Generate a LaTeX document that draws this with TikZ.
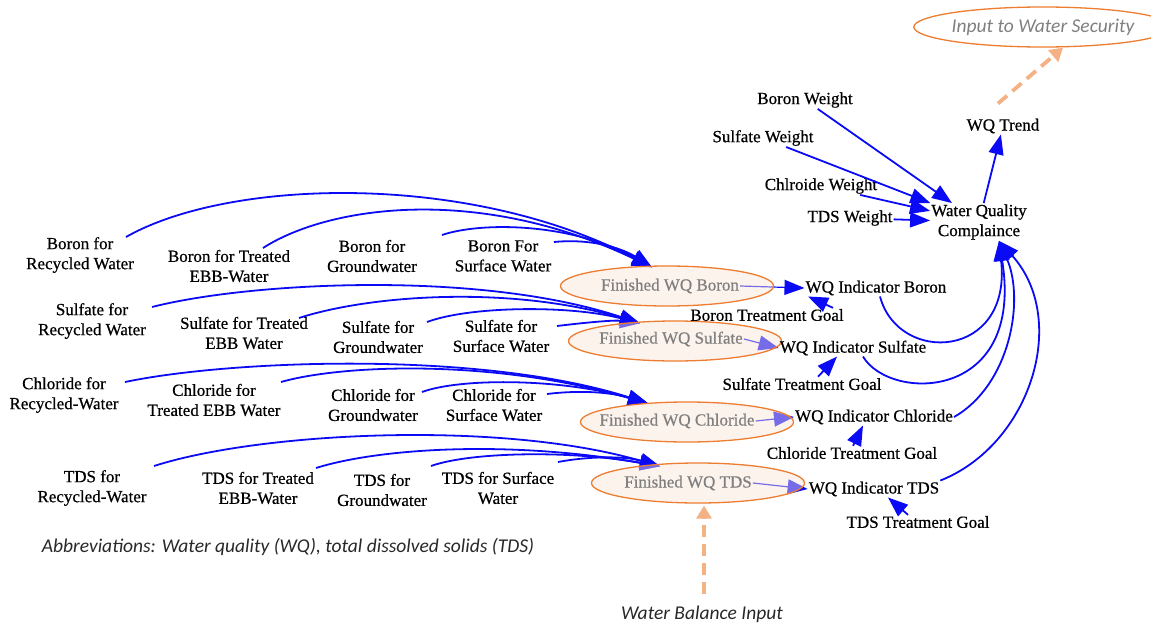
\documentclass[tikz,border=0pt]{standalone}
\usepackage{fontspec}
\setmainfont{Liberation Serif}[FakeBold=0.6]
\newfontfamily\notefont{Carlito}
\usetikzlibrary{arrows.meta,shapes.geometric,backgrounds}

\definecolor{linkblue}{RGB}{10,10,245}
\definecolor{flowedge}{RGB}{237,125,49}
\definecolor{flowfill}{RGB}{251,229,214}
\definecolor{dashorange}{RGB}{244,177,131}
\definecolor{softgray}{RGB}{128,128,128}
\definecolor{notegray}{RGB}{40,40,40}

\begin{document}
\begin{tikzpicture}[x=1pt,y=-1pt,
  lbl/.style={font=\fontsize{17}{20}\selectfont, align=center, inner sep=1pt},
  flow/.style={ellipse, draw=flowedge, line width=1.3pt, fill=flowfill, fill opacity=0.45,
    minimum width=213pt, minimum height=40pt, inner sep=0pt},
  flowtext/.style={font=\fontsize{17}{20}\selectfont, text=softgray, inner sep=1pt},
  outer/.style={ellipse, draw=flowedge, line width=1.3pt, fill=white,
    minimum width=213pt, minimum height=40pt, inner sep=0pt,
    font=\notefont\itshape\fontsize{19.5}{22}\selectfont, text=softgray},
  note/.style={font=\notefont\itshape\fontsize{19.5}{22}\selectfont, text=notegray, inner sep=1pt},
  link/.style={draw=linkblue, line width=1.8pt, -{Triangle[length=20pt,width=15pt]}},
  thinlink/.style={link, line width=1.2pt},
  extlink/.style={draw=dashorange, line width=3.8pt, dash pattern=on 12pt off 7pt,
    -{Triangle[length=13pt,width=15pt]}},
]
\useasboundingbox (0,0) rectangle (1151,626);

% ---- aggregation: weights, compliance, trend ----
\node[lbl] (bw)  at (805,100) {Boron Weight};
\node[lbl] (sw)  at (763,138) {Sulfate Weight};
\node[lbl] (cw)  at (821,186) {Chlroide Weight};
\node[lbl] (tw)  at (850,218) {TDS Weight};
\node[lbl] (wqc) at (979,222) {Water Quality\\Complaince};
\node[lbl] (wqt) at (1003,126) {WQ Trend};
\node[outer] (iws) at (1043,27) {Input to Water Security};

% ---- finished water quality stocks ----
\node[flow] (fb) at (667,286) {};
\node[flow] (fs) at (675,341) {};
\node[flow] (fc) at (687,422) {};
\node[flow] (ft) at (698,483) {};
\node[flowtext] (fbt) at (670,286) {Finished WQ Boron};
\node[flowtext] (fst) at (671,339) {Finished WQ Sulfate};
\node[flowtext] (fct) at (677,421) {Finished WQ Chloride};
\node[flowtext] (ftt) at (688,483) {Finished WQ TDS};

\coordinate (tipB) at ([xshift=-15pt,yshift=-2pt]fb.north);
\coordinate (tipS) at ([xshift=-35pt,yshift=-3pt]fs.north);
\coordinate (tipC) at ([xshift=-39pt,yshift=-2pt]fc.north);
\coordinate (tipT) at ([xshift=-38pt,yshift=-4pt]ft.north);

% ---- indicators and treatment goals ----
\node[lbl] (wib) at (876,288) {WQ Indicator Boron};
\node[lbl] (wis) at (853,348) {WQ Indicator Sulfate};
\node[lbl] (wic) at (874,417) {WQ Indicator Chloride};
\node[lbl] (wit) at (874,489) {WQ Indicator TDS};
\node[lbl] (btg) at (767,315) {Boron Treatment Goal};
\node[lbl] (stg) at (802,384) {Sulfate Treatment Goal};
\node[lbl] (ctg) at (852,453) {Chloride Treatment Goal};
\node[lbl] (ttg) at (918,522) {TDS Treatment Goal};

% ---- source concentrations ----
\node[lbl] (br1) at (80,255)  {Boron for\\Recycled Water};
\node[lbl] (br2) at (229,266) {Boron for Treated\\EBB-Water};
\node[lbl] (br3) at (372,256) {Boron for\\Groundwater};
\node[lbl] (br4) at (503,256) {Boron For\\Surface Water};
\node[lbl] (sr1) at (92,321)  {Sulfate for\\Recycled Water};
\node[lbl] (sr2) at (244,333) {Sulfate for Treated\\EBB Water};
\node[lbl] (sr3) at (378,337) {Sulfate for\\Groundwater};
\node[lbl] (sr4) at (501,336) {Sulfate for\\Surface Water};
\node[lbl] (cr1) at (64,395)  {Chloride for\\Recycled-Water};
\node[lbl] (cr2) at (214,400) {Chloride for\\Treated EBB Water};
\node[lbl] (cr3) at (373,405) {Chloride for\\Groundwater};
\node[lbl] (cr4) at (494,405) {Chloride for\\Surface Water};
\node[lbl] (tr1) at (92,488)  {TDS for\\Recycled-Water};
\node[lbl] (tr2) at (258,488) {TDS for Treated\\EBB-Water};
\node[lbl] (tr3) at (382,490) {TDS for\\Groundwater};
\node[lbl] (tr4) at (498,488) {TDS for Surface\\Water};

\node[note] (abbr) at (288,547) {Abbreviations: Water quality (WQ), total dissolved solids (TDS)};
\node[note] (wbi)  at (702,614) {Water Balance Input};

\begin{scope}[on background layer]
  % boron inputs
  \draw[link] ([shift={(46,-18)}]br1.center) .. controls (230,178) and (470,172) .. (tipB);
  \draw[link] ([shift={(34,-18)}]br2.center) .. controls (330,205) and (480,185) .. (tipB);
  \draw[link] ([shift={(70,-21)}]br3.center) .. controls (480,222) and (570,222) .. (tipB);
  \draw[link] ([shift={(51,-14)}]br4.center) .. controls (595,238) and (625,250) .. (tipB);
  % sulfate inputs
  \draw[link] ([shift={(60,-14)}]sr1.center) .. controls (250,282) and (480,270) .. (tipS);
  \draw[link] ([shift={(55,-15)}]sr2.center) .. controls (370,295) and (510,285) .. (tipS);
  \draw[link] ([shift={(49,-15)}]sr3.center) .. controls (470,306) and (570,305) .. (tipS);
  \draw[link] ([shift={(56,-10)}]sr4.center) .. controls (590,322) and (615,320) .. (tipS);
  % chloride inputs
  \draw[link] ([shift={(61,-13)}]cr1.center) .. controls (230,360) and (480,350) .. (tipC);
  \draw[link] ([shift={(67,-18)}]cr2.center) .. controls (340,365) and (490,358) .. (tipC);
  \draw[link] ([shift={(49,-13)}]cr3.center) .. controls (460,378) and (560,378) .. (tipC);
  \draw[link] ([shift={(53,-11)}]cr4.center) .. controls (580,390) and (610,392) .. (tipC);
  % tds inputs
  \draw[link] ([shift={(62,-22)}]tr1.center) .. controls (260,432) and (500,420) .. (tipT);
  \draw[link] ([shift={(58,-20)}]tr2.center) .. controls (380,448) and (510,440) .. (tipT);
  \draw[link] ([shift={(49,-24)}]tr3.center) .. controls (470,452) and (570,450) .. (tipT);
  \draw[link] ([shift={(60,-26)}]tr4.center) .. controls (590,456) and (625,456) .. (tipT);

  % stocks to indicators
  \draw[thinlink] (fbt.east) -- (wib.west);
  \draw[thinlink] (fst.east) -- (wis.west);
  \draw[thinlink] (fct.east) -- (wic.west);
  \draw[thinlink] (ftt.east) -- (wit.west);
\end{scope}

% treatment goals to indicators
\draw[link] ([xshift=66pt]btg.north) -- ([xshift=-68pt]wib.south);
\draw[link] ([xshift=16pt]stg.north) -- ([xshift=-16pt]wis.south);
\draw[link] ([xshift=1pt]ctg.north) -- ([xshift=-11pt]wic.south);
\draw[link] ([xshift=-10pt]ttg.north) -- ([xshift=14pt]wit.south);

% indicators to compliance
\draw[link] ([xshift=4pt]wib.south) .. controls (898,365) and (1012,360) .. ([xshift=20pt]wqc.south);
\draw[link] ([xshift=10pt]wis.south) .. controls (890,402) and (1025,402) .. ([xshift=20pt]wqc.south);
\draw[link] (wic.east) .. controls (1010,385) and (1025,300) .. ([xshift=20pt]wqc.south);
\draw[link] (wit.north east) .. controls (1030,445) and (1070,320) .. ([xshift=20pt]wqc.south);

% weights to compliance, compliance to trend
\draw[link] (bw) -- (wqc);
\draw[link] (sw) -- (wqc);
\draw[link] (cw) -- (wqc);
\draw[link] (tw) -- (wqc);
\draw[link] (wqc) -- (wqt);

% external model links
\draw[extlink] ([xshift=-5pt,yshift=14pt]wqt.north) -- ([xshift=20pt]iws.south);
\draw[extlink] ([xshift=2pt,yshift=10pt]wbi.north) -- ([xshift=6pt,yshift=-2pt]ft.south);
\end{tikzpicture}
\end{document}
